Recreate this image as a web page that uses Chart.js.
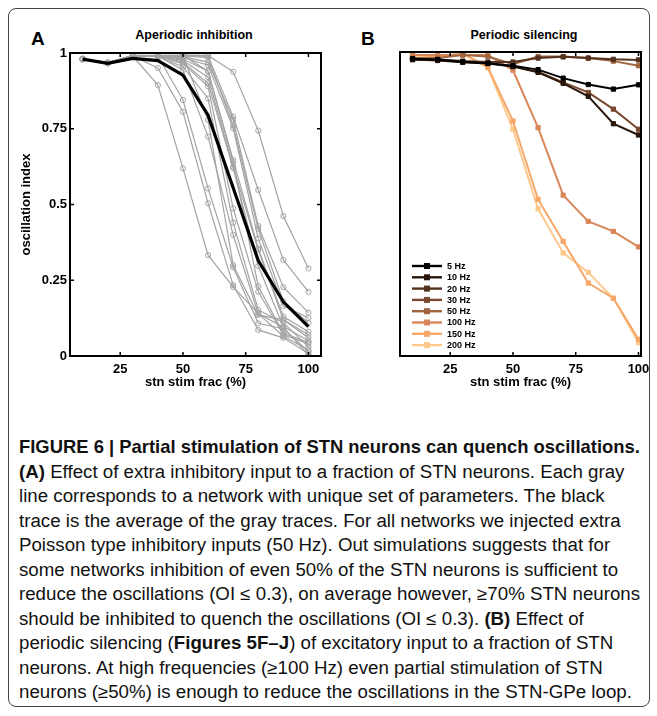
<!DOCTYPE html>
<html>
<head>
<meta charset="utf-8">
<script src="https://cdn.jsdelivr.net/npm/chart.js@4.4.1/dist/chart.umd.min.js"></script>
<style>
  html, body { margin: 0; padding: 0; overflow: hidden; width: 657px; height: 716px; }
  body { background: #fff; position: relative; }
  .abs { position: absolute; }
  #frame { left: 8px; top: 8px; width: 640px; height: 697px; border: 1px solid #444; border-radius: 8px; }
  .letter { font: bold 19px "Liberation Sans", Arial, sans-serif; }
  .ptitle { font: bold 12.5px "Liberation Sans", Arial, sans-serif; text-align: center; width: 240px; }
  #caption { left: 19px; top: 435px; width: 630px; height: 272px; overflow: hidden;
    font-family: "Liberation Sans", Arial, sans-serif;
    font-size: 18px; line-height: 24.5px; color: #111; white-space: nowrap; }
  #capHead, #capBody { position: absolute; left: 0; transform-origin: 0 0; }
  #capHead { top: 0; font-weight: bold; font-size: 19px; }
  #capBody { top: 24.5px; }
</style>
</head>
<body>
<div id="frame" class="abs"></div>
<div class="abs letter" style="left:31px; top:28px;">A</div>
<div class="abs letter" style="left:361px; top:28px;">B</div>
<div class="abs ptitle" style="left:74px; top:28px;">Aperiodic inhibition</div>
<div class="abs ptitle" style="left:404px; top:28px;">Periodic silencing</div>
<canvas id="chartA" class="abs" width="330" height="400" style="left:0; top:0;"></canvas>
<canvas id="chartB" class="abs" width="326" height="400" style="left:330px; top:0;"></canvas>
<div id="caption" class="abs">
<div id="capHead">FIGURE 6 | Partial stimulation of STN neurons can quench oscillations.</div>
<div id="capBody"><b>(A)</b> Effect of extra inhibitory input to a fraction of STN neurons. Each gray<br>
line corresponds to a network with unique set of parameters. The black<br>
trace is the average of the gray traces. For all networks we injected extra<br>
Poisson type inhibitory inputs (50 Hz). Out simulations suggests that for<br>
some networks inhibition of even 50% of the STN neurons is sufficient to<br>
reduce the oscillations (OI ≤ 0.3), on average however, ≥70% STN neurons<br>
should be inhibited to quench the oscillations (OI ≤ 0.3). <b>(B)</b> Effect of<br>
periodic silencing (<b>Figures 5F–J</b>) of excitatory input to a fraction of STN<br>
neurons. At high frequencies (≥100 Hz) even partial stimulation of STN<br>
neurons (≥50%) is enough to reduce the oscillations in the STN-GPe loop.</div>
</div>
<script>
// fraction of STN neurons stimulated (%)
const stimFrac = [10, 20, 30, 40, 50, 60, 70, 80, 90, 100];
const xTicks = [25, 50, 75, 100];
const yTicks = [0, 0.25, 0.5, 0.75, 1];
const yTickLabels = ['0', '0.25', '0.5', '0.75', '1'];

// panel A: one gray trace per network, black = average
const grayTraces = [
  [0.980, 0.968, 0.992, 0.992, 0.993, 0.992, 0.938, 0.744, 0.462, 0.289],
  [0.980, 0.967, 0.990, 0.991, 0.990, 0.990, 0.790, 0.548, 0.317, 0.212],
  [0.981, 0.968, 0.991, 0.990, 0.988, 0.970, 0.780, 0.429, 0.227, 0.143],
  [0.979, 0.966, 0.990, 0.989, 0.985, 0.960, 0.752, 0.388, 0.165, 0.126],
  [0.980, 0.967, 0.989, 0.990, 0.980, 0.940, 0.647, 0.355, 0.130, 0.080],
  [0.981, 0.968, 0.992, 0.991, 0.975, 0.920, 0.625, 0.350, 0.120, 0.070],
  [0.980, 0.966, 0.990, 0.990, 0.970, 0.900, 0.620, 0.297, 0.097, 0.050],
  [0.979, 0.967, 0.991, 0.989, 0.965, 0.890, 0.487, 0.212, 0.070, 0.040],
  [0.980, 0.967, 0.990, 0.988, 0.955, 0.850, 0.440, 0.152, 0.110, 0.030],
  [0.980, 0.968, 0.991, 0.990, 0.944, 0.724, 0.400, 0.140, 0.065, 0.020],
  [0.981, 0.967, 0.990, 0.990, 0.990, 0.779, 0.300, 0.135, 0.120, 0.060],
  [0.980, 0.966, 0.989, 0.990, 0.845, 0.553, 0.293, 0.108, 0.090, 0.015],
  [0.980, 0.967, 0.990, 0.951, 0.806, 0.504, 0.234, 0.086, 0.060, 0.008],
  [0.979, 0.967, 0.990, 0.894, 0.619, 0.333, 0.228, 0.140, 0.095, 0.003],
  [0.981, 0.967, 0.990, 0.990, 0.992, 0.940, 0.640, 0.230, 0.075, 0.045],
  [0.980, 0.968, 0.990, 0.991, 0.991, 0.985, 0.760, 0.420, 0.180, 0.110]
];
const meanTrace = [0.980, 0.966, 0.982, 0.975, 0.927, 0.795, 0.555, 0.315, 0.179, 0.097];

// panel B: one trace per silencing frequency
const freqLabels = ['5 Hz', '10 Hz', '20 Hz', '30 Hz', '50 Hz', '100 Hz', '150 Hz', '200 Hz'];
const freqColors = ['#000000', '#2a170c', '#553120', '#7a4a30', '#a0653f', '#d9875a', '#f6a76a', '#fdc889'];
const hz5   = [0.978, 0.975, 0.968, 0.963, 0.955, 0.942, 0.914, 0.893, 0.878, 0.892];
const hz10  = [0.975, 0.972, 0.966, 0.962, 0.952, 0.933, 0.897, 0.854, 0.764, 0.727];
const hz20  = [0.975, 0.975, 0.970, 0.967, 0.967, 0.980, 0.984, 0.980, 0.976, 0.974];
const hz30  = [0.976, 0.974, 0.967, 0.963, 0.953, 0.935, 0.900, 0.867, 0.812, 0.746];
const hz50  = [0.980, 0.980, 0.990, 0.985, 0.960, 0.985, 0.985, 0.980, 0.970, 0.955];
const hz100 = [0.990, 0.990, 0.990, 0.990, 0.940, 0.751, 0.529, 0.443, 0.410, 0.359];
const hz150 = [0.990, 0.985, 0.995, 0.950, 0.773, 0.515, 0.377, 0.240, 0.190, 0.055];
const hz200 = [0.990, 0.985, 0.995, 0.948, 0.746, 0.484, 0.339, 0.275, 0.190, 0.044];
const freqSeries = [hz5, hz10, hz20, hz30, hz50, hz100, hz150, hz200];

// squeeze caption into the condensed look of the journal font
function fitWidth(id, target) {
  const el = document.getElementById(id);
  const w = el.scrollWidth;
  el.style.transform = 'scaleX(' + (target / w) + ')';
}
fitWidth('capHead', 621);
fitWidth('capBody', 621);

Chart.defaults.font.family = '"Liberation Sans", Arial, sans-serif';
Chart.defaults.font.weight = 'bold';
Chart.defaults.color = '#000';

const pts = arr => arr.map((v, i) => ({ x: stimFrac[i], y: v }));

// matlab style box with inward ticks
const boxPlugin = {
  id: 'box',
  afterDatasetsDraw(chart, args, opts) {
    const { ctx, chartArea: a, scales } = chart;
    ctx.save();
    ctx.strokeStyle = '#000';
    ctx.lineWidth = 2;
    ctx.strokeRect(a.left, a.top, a.right - a.left, a.bottom - a.top);
    ctx.lineWidth = 1.5;
    ctx.beginPath();
    xTicks.forEach(v => {
      const x = scales.x.getPixelForValue(v);
      ctx.moveTo(x, a.top); ctx.lineTo(x, a.top + 4);
      ctx.moveTo(x, a.bottom); ctx.lineTo(x, a.bottom - 4);
    });
    if (opts.yTicks) {
      yTicks.forEach(v => {
        const y = scales.y.getPixelForValue(v);
        ctx.moveTo(a.left, y); ctx.lineTo(a.left + 4, y);
        ctx.moveTo(a.right, y); ctx.lineTo(a.right - 4, y);
      });
    }
    ctx.stroke();
    ctx.restore();
  }
};

// legend in lower-left corner of panel B
const innerLegend = {
  id: 'innerLegend',
  afterDraw(chart) {
    const { ctx, chartArea: a } = chart;
    ctx.save();
    ctx.font = 'bold 9px "Liberation Sans", Arial, sans-serif';
    ctx.textBaseline = 'middle';
    chart.data.datasets.forEach((ds, i) => {
      const y = 266 + i * 11.3;
      const x0 = a.left + 12;
      ctx.strokeStyle = ds.borderColor;
      ctx.lineWidth = 2.4;
      ctx.beginPath(); ctx.moveTo(x0, y); ctx.lineTo(x0 + 30, y); ctx.stroke();
      ctx.fillStyle = ds.borderColor;
      ctx.fillRect(x0 + 12, y - 3, 6, 6);
      ctx.fillStyle = '#000';
      ctx.fillText(ds.label, x0 + 35, y + 0.5);
    });
    ctx.restore();
  }
};

const xScale = (title, max) => ({
  type: 'linear', min: 5, max: max,
  afterBuildTicks: s => { s.ticks = xTicks.map(v => ({ value: v })); },
  afterFit: s => { s.height = 36; },
  grid: { display: false, drawTicks: false },
  border: { display: false },
  ticks: { padding: 6, font: { size: 13, weight: 'bold' } },
  title: { display: true, text: title, font: { size: 13, weight: 'bold' }, padding: { top: 0, bottom: 2 } }
});

new Chart(document.getElementById('chartA'), {
  type: 'line',
  data: {
    datasets: grayTraces.map(t => ({
      data: pts(t), borderColor: '#a3a3a3', borderWidth: 1.2, pointRadius: 2.6, pointBorderWidth: 1,
      pointBorderColor: '#a3a3a3', pointBackgroundColor: 'rgba(255,255,255,0)', order: 2
    })).concat([{ data: pts(meanTrace), borderColor: '#000', borderWidth: 3.2, pointRadius: 0, order: 1 }])
  },
  options: {
    responsive: false, animation: false,
    layout: { padding: { left: 15, top: 53, right: 9, bottom: 8 } },
    plugins: { legend: { display: false }, tooltip: { enabled: false }, box: { yTicks: true } },
    scales: {
      x: xScale('stn stim frac (%)', 105),
      y: {
        min: 0, max: 1,
        afterBuildTicks: s => { s.ticks = yTicks.map(v => ({ value: v })); },
        afterFit: s => { s.width = 55; },
        grid: { display: false, drawTicks: false }, border: { display: false },
        ticks: { padding: 3, font: { size: 13, weight: 'bold' }, callback: (v, i) => yTickLabels[i] },
        title: { display: true, text: 'oscillation index', font: { size: 13, weight: 'bold' }, padding: { top: 4, bottom: 0 } }
      }
    }
  },
  plugins: [boxPlugin]
});

new Chart(document.getElementById('chartB'), {
  type: 'line',
  data: {
    datasets: freqSeries.map((s, i) => ({
      label: freqLabels[i], data: pts(s), borderColor: freqColors[i], backgroundColor: freqColors[i],
      borderWidth: 2, pointStyle: 'rect', pointRadius: 3, pointBorderWidth: 1
    }))
  },
  options: {
    responsive: false, animation: false,
    layout: { padding: { left: 15, top: 52, right: 15, bottom: 8 } },
    plugins: { legend: { display: false }, tooltip: { enabled: false }, box: { yTicks: false } },
    scales: {
      x: xScale('stn stim frac (%)', 101),
      y: { min: 0, max: 1, afterFit: s => { s.width = 55; }, grid: { display: false, drawTicks: false },
           border: { display: false }, ticks: { display: false } }
    }
  },
  plugins: [boxPlugin, innerLegend]
});
</script>
</body>
</html>
